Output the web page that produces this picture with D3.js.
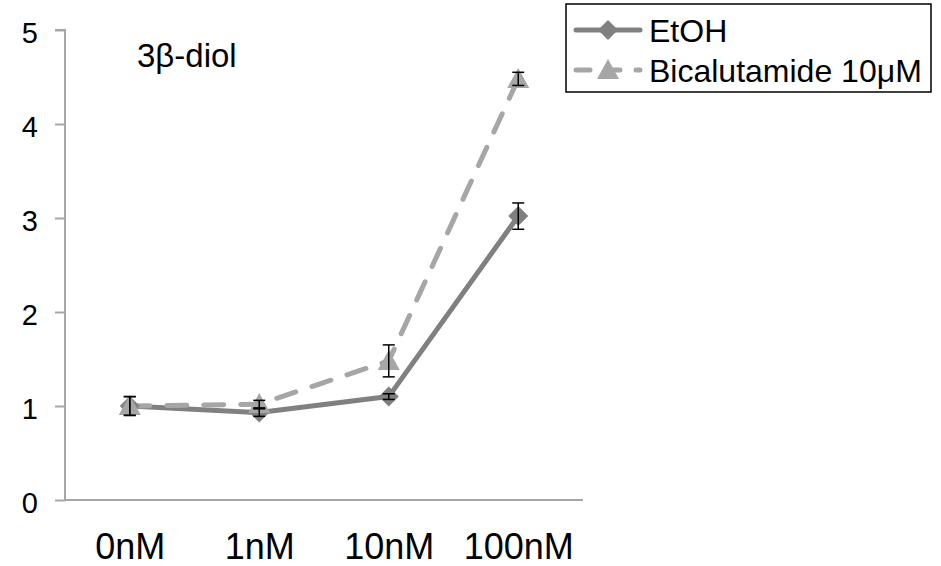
<!DOCTYPE html>
<html>
<head>
<meta charset="utf-8">
<script src="https://cdn.jsdelivr.net/npm/d3@7/dist/d3.min.js"></script>
<style>
  body { margin: 0; background: #fff; }
  text { font-family: "Liberation Sans", Arial, sans-serif; fill: #000; }
</style>
</head>
<body>
<div id="chart"></div>
<script>
// Data
const categories = ['0nM', '1nM', '10nM', '100nM'];
const etohValues = [1.0, 0.93, 1.1, 3.02];
const etohErrors = [0.1, 0.04, 0.03, 0.14];
const bicaValues = [1.0, 1.02, 1.48, 4.48];
const bicaErrors = [0.1, 0.04, 0.17, 0.07];
const yTicks = [0, 1, 2, 3, 4, 5];

const series = [
  { name: 'EtOH', values: etohValues, errors: etohErrors, color: '#808080', dash: null, marker: 'diamond' },
  { name: 'Bicalutamide 10μM', values: bicaValues, errors: bicaErrors, color: '#a6a6a6', dash: '20,17', marker: 'triangle' }
];

const width = 941, height = 566;
const svg = d3.select('#chart').append('svg')
  .attr('width', width)
  .attr('height', height);

const x = d3.scalePoint()
  .domain(categories)
  .range([65, 583])
  .padding(0.5);

const y = d3.scaleLinear()
  .domain([0, 5])
  .range([500, 30]);

// Y axis
const yAxis = svg.append('g')
  .attr('transform', 'translate(65,0)')
  .call(d3.axisLeft(y).tickValues(yTicks).tickSize(10).tickPadding(17).tickFormat(d3.format('d')));
yAxis.select('.domain').attr('stroke', '#a6a6a6').attr('stroke-width', 2)
  .attr('d', `M-10,${y(5)}H0V${y(0)}`);
yAxis.selectAll('.tick line').attr('stroke', '#a6a6a6').attr('stroke-width', 2);
yAxis.selectAll('.tick text').style('font-size', '29px').attr('dy', '0.42em');

// X axis
const xAxis = svg.append('g')
  .attr('transform', `translate(0,${y(0)})`)
  .call(d3.axisBottom(x).tickSize(0).tickPadding(33));
xAxis.select('.domain').attr('stroke', '#a6a6a6').attr('stroke-width', 2)
  .attr('d', `M65,0H583`);
xAxis.selectAll('.tick text').style('font-size', '36px').attr('dy', '0.71em');

// Lines
const line = d3.line()
  .x((d, i) => x(categories[i]))
  .y(d => y(d));

series.forEach(s => {
  svg.append('path')
    .datum(s.values)
    .attr('fill', 'none')
    .attr('stroke', s.color)
    .attr('stroke-width', 5)
    .attr('stroke-linecap', 'round')
    .attr('stroke-linejoin', 'round')
    .attr('stroke-dasharray', s.dash)
    .attr('d', line);
});

function markerPath(type) {
  if (type === 'diamond') return 'M0,-10L10,0L0,10L-10,0Z';
  return 'M0,-11L11,9L-11,9Z';
}

// Markers
series.forEach(s => {
  svg.append('g').selectAll('path')
    .data(s.values)
    .join('path')
    .attr('transform', (d, i) => `translate(${x(categories[i])},${y(d)})`)
    .attr('d', markerPath(s.marker))
    .attr('fill', s.color);
});

// Error bars
series.forEach(s => {
  const g = svg.append('g').attr('stroke', '#000').attr('stroke-width', 1.5);
  s.values.forEach((v, i) => {
    const cx = x(categories[i]);
    const top = y(v + s.errors[i]);
    const bot = y(v - s.errors[i]);
    g.append('line').attr('x1', cx).attr('x2', cx).attr('y1', top).attr('y2', bot);
    g.append('line').attr('x1', cx - 6).attr('x2', cx + 6).attr('y1', top).attr('y2', top);
    g.append('line').attr('x1', cx - 6).attr('x2', cx + 6).attr('y1', bot).attr('y2', bot);
  });
});

// Title inside plot
svg.append('text')
  .attr('x', 137)
  .attr('y', 67)
  .style('font-size', '33px')
  .text('3β-diol');

// Legend
const legend = svg.append('g').attr('transform', 'translate(566,4)');
legend.append('rect')
  .attr('width', 365)
  .attr('height', 88)
  .attr('fill', '#fff')
  .attr('stroke', '#000')
  .attr('stroke-width', 1.5);

series.forEach((s, i) => {
  const ly = 26 + i * 40;
  legend.append('line')
    .attr('x1', 10).attr('x2', 74)
    .attr('y1', ly).attr('y2', ly)
    .attr('stroke', s.color)
    .attr('stroke-width', 5)
    .attr('stroke-linecap', 'round')
    .attr('stroke-dasharray', s.dash ? '14,16' : null);
  legend.append('path')
    .attr('transform', `translate(42,${ly})`)
    .attr('d', markerPath(s.marker))
    .attr('fill', s.color);
  legend.append('text')
    .attr('x', 83)
    .attr('y', ly)
    .attr('dy', '0.36em')
    .style('font-size', '32px')
    .text(s.name);
});
</script>
</body>
</html>
